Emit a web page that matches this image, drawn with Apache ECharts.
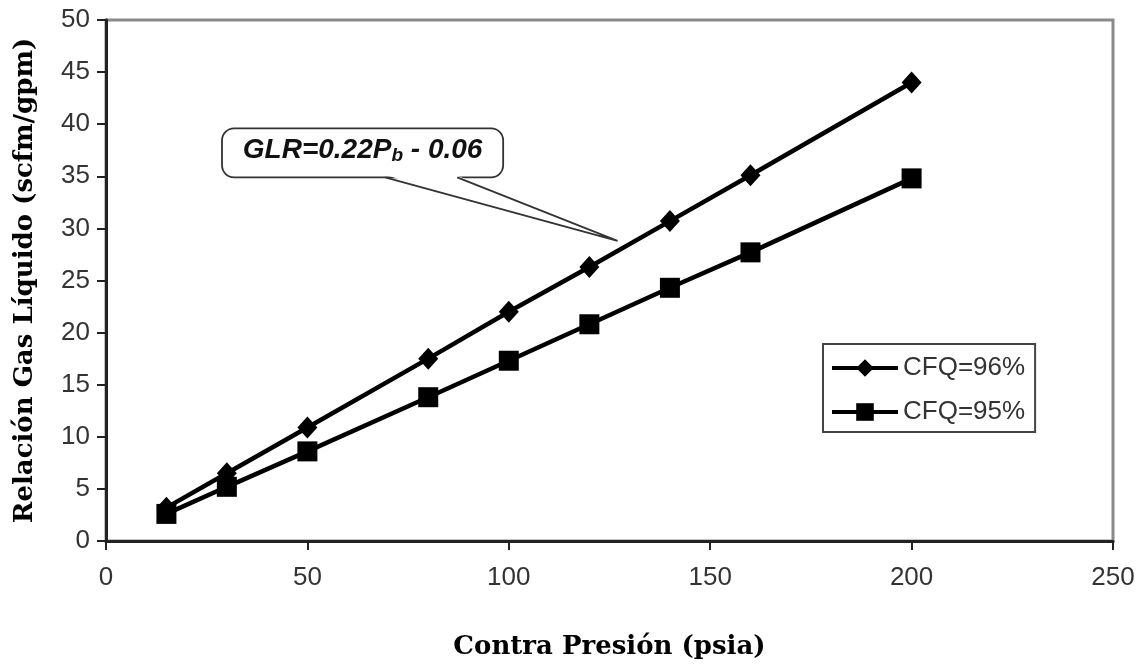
<!DOCTYPE html>
<html>
<head>
<meta charset="utf-8">
<script src="https://cdn.jsdelivr.net/npm/echarts@6/dist/echarts.min.js"></script>
<style>
  html, body { margin: 0; padding: 0; background: #fff; }
  #chart { width: 1141px; height: 669px; }
</style>
</head>
<body>
<div id="chart"></div>
<script>
// Back pressure (psia) at which each gas/liquid ratio was computed
const pressures = [15, 30, 50, 80, 100, 120, 140, 160, 200];
// Gas-liquid ratio (scfm/gpm) for each foam quality
const glrCfq96 = [3.2, 6.5, 10.9, 17.5, 22.0, 26.3, 30.7, 35.1, 44.0];
const glrCfq95 = [2.6, 5.2, 8.6, 13.8, 17.3, 20.8, 24.3, 27.7, 34.8];
const seriesNames = ['CFQ=96%', 'CFQ=95%'];
const xTicks = [0, 50, 100, 150, 200, 250];
const yTicks = [0, 5, 10, 15, 20, 25, 30, 35, 40, 45, 50];

// Callout placement, in axis units
const callout = {
  box: [[28.8, 39.6], [98.6, 34.9]],
  baseX: [69.3, 87.2],
  tip: [127, 28.8]
};

const toPairs = (ys) => pressures.map((x, i) => [x, ys[i]]);

const chart = echarts.init(document.getElementById('chart'));
const sans = 'Liberation Sans, Arial, sans-serif';
const serif = 'DejaVu Serif, serif';

chart.setOption({
  backgroundColor: '#fff',
  animation: false,
  grid: {
    left: 106, right: 28, top: 20, bottom: 128,
    show: true, borderColor: '#8a8a8a', borderWidth: 3
  },
  legend: {
    orient: 'vertical',
    left: 823, top: 344,
    padding: [11, 10, 7, 7],
    itemWidth: 66, itemHeight: 22, itemGap: 18,
    borderColor: '#444', borderWidth: 2,
    backgroundColor: '#fff',
    lineStyle: { width: 4, color: '#000' },
    textStyle: { fontFamily: sans, fontSize: 26, color: '#333' },
    data: seriesNames
  },
  xAxis: {
    type: 'value',
    min: xTicks[0], max: xTicks[xTicks.length - 1], interval: 50,
    name: 'Contra Presión (psia)',
    nameLocation: 'middle', nameGap: 93,
    nameTextStyle: { fontFamily: serif, fontWeight: 'bold', fontSize: 26, color: '#000' },
    axisLine: { lineStyle: { color: '#222', width: 3 } },
    axisTick: { show: true, length: 9, lineStyle: { color: '#222', width: 2 } },
    axisLabel: { fontFamily: sans, fontSize: 26, color: '#333', margin: 24 },
    splitLine: { show: false }
  },
  yAxis: {
    type: 'value',
    min: yTicks[0], max: yTicks[yTicks.length - 1], interval: 5,
    name: 'Relación Gas Líquido (scfm/gpm)',
    nameLocation: 'middle', nameGap: 68,
    nameTextStyle: { fontFamily: serif, fontWeight: 'bold', fontSize: 26, color: '#000' },
    axisLine: { show: true, lineStyle: { color: '#222', width: 3 } },
    axisTick: { show: true, length: 9, lineStyle: { color: '#222', width: 2 } },
    axisLabel: { fontFamily: sans, fontSize: 26, color: '#333', margin: 16 },
    splitLine: { show: false }
  },
  series: [
    {
      name: seriesNames[0], type: 'line', data: toPairs(glrCfq96),
      symbol: 'diamond', symbolSize: [20, 22],
      lineStyle: { color: '#000', width: 4.5 },
      itemStyle: { color: '#000' }
    },
    {
      name: seriesNames[1], type: 'line', data: toPairs(glrCfq95),
      symbol: 'rect', symbolSize: 20,
      lineStyle: { color: '#000', width: 4.5 },
      itemStyle: { color: '#000' }
    }
  ]
});

// Speech-bubble callout with the fitted equation
function drawCallout() {
  const px = (p) => chart.convertToPixel({ gridIndex: 0 }, p);
  const [l, t] = px(callout.box[0]);
  const [r, b] = px(callout.box[1]);
  const bx0 = px([callout.baseX[0], callout.box[1][1]])[0];
  const bx1 = px([callout.baseX[1], callout.box[1][1]])[0];
  const [tx, ty] = px(callout.tip);
  const ink = '#333';
  chart.setOption({
    graphic: [
      {
        type: 'rect', z: 50,
        shape: { x: l, y: t, width: r - l, height: b - t, r: 12 },
        style: { fill: '#fff', stroke: ink, lineWidth: 1.8 }
      },
      {
        // white wedge hides the box edge where the pointer joins
        type: 'polygon', z: 51,
        shape: { points: [[bx0 + 1, b - 2], [bx1 - 1, b - 2], [tx, ty]] },
        style: { fill: '#fff', stroke: null }
      },
      {
        type: 'polyline', z: 52,
        shape: { points: [[bx0, b], [tx, ty], [bx1, b]] },
        style: { fill: null, stroke: ink, lineWidth: 1.8 }
      },
      {
        type: 'text', z: 53,
        x: (l + r) / 2, y: (t + b) / 2 - 3,
        style: {
          text: '{a|GLR=0.22P}{s|b}{a| - 0.06}',
          align: 'center', verticalAlign: 'middle',
          rich: {
            a: { fontFamily: sans, fontSize: 28, fontWeight: 'bold', fontStyle: 'italic', fill: '#111', lineHeight: 32 },
            s: { fontFamily: sans, fontSize: 19, fontWeight: 'bold', fontStyle: 'italic', fill: '#111', lineHeight: 32, padding: [11, 0, 0, 0] }
          }
        }
      }
    ]
  });
}
drawCallout();
</script>
</body>
</html>
